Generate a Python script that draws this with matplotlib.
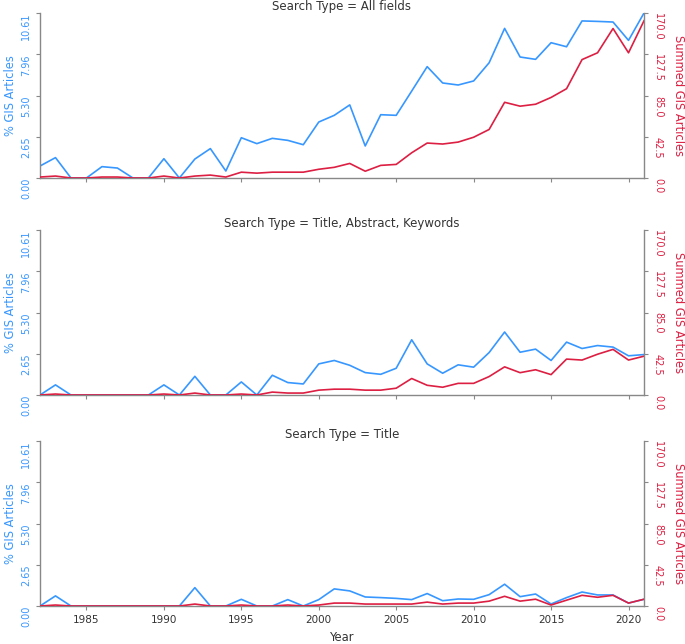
import numpy as np
import matplotlib
matplotlib.use('Agg')
import matplotlib.pyplot as plt

years = list(range(1982, 2022))

search_types = ['All fields', 'Title, Abstract, Keywords', 'Title']

# % GIS articles per search type
pct_all = [0.77, 1.31, 0, 0, 0.73, 0.64, 0, 0, 1.24, 0, 1.22, 1.89, 0.45, 2.59, 2.21,
           2.55, 2.42, 2.14, 3.60, 4.03, 4.70, 2.06, 4.07, 4.03, 5.59, 7.16, 6.11, 5.98,
           6.24, 7.41, 9.62, 7.78, 7.63, 8.70, 8.44, 10.10, 10.07, 10.03, 8.85, 10.61]
pct_tak = [0, 0.65, 0, 0, 0, 0, 0, 0, 0.65, 0, 1.20, 0, 0, 0.84, 0,
           1.27, 0.80, 0.71, 2.00, 2.22, 1.91, 1.44, 1.33, 1.72, 3.55, 2.00, 1.40, 1.94,
           1.79, 2.73, 4.05, 2.75, 2.95, 2.22, 3.40, 2.99, 3.18, 3.08, 2.52, 2.60]
pct_title = [0, 0.65, 0, 0, 0, 0, 0, 0, 0, 0, 1.18, 0, 0, 0.43, 0,
             0, 0.41, 0, 0.41, 1.10, 0.97, 0.58, 0.54, 0.49, 0.41, 0.80, 0.34, 0.45,
             0.43, 0.73, 1.40, 0.60, 0.77, 0.13, 0.54, 0.90, 0.71, 0.71, 0.19, 0.43]

# summed GIS articles per search type
sum_all = [1, 2, 0, 0, 1, 1, 0, 0, 2, 0, 2, 3, 1, 6, 5,
           6, 6, 6, 9, 11, 15, 7, 13, 14, 26, 36, 35, 37,
           42, 50, 78, 74, 76, 83, 92, 122, 129, 154, 129, 162]
sum_tak = [0, 1, 0, 0, 0, 0, 0, 0, 1, 0, 2, 0, 0, 1, 0,
           3, 2, 2, 5, 6, 6, 5, 5, 7, 17, 10, 8, 12,
           12, 19, 29, 23, 26, 21, 37, 36, 42, 47, 36, 40]
sum_title = [0, 1, 0, 0, 0, 0, 0, 0, 0, 0, 2, 0, 0, 1, 0,
             0, 1, 0, 1, 3, 3, 2, 2, 2, 2, 4, 2, 3,
             3, 5, 10, 5, 7, 1, 6, 11, 9, 11, 3, 7]

pct_series = [pct_all, pct_tak, pct_title]
sum_series = [sum_all, sum_tak, sum_title]

blue = '#3797ff'
red = '#dc1f42'
spine_col = '#888888'
text_col = '#333333'

pct_max = 10.61
sum_max = 170.0

fig = plt.figure(figsize=(6.85, 6.44), dpi=100)
left, width = 40 / 685, 604 / 685
tops = [13, 230, 441]
h = 165 / 644

for i, st in enumerate(search_types):
    bottom = 1 - (tops[i] + 165) / 644
    ax = fig.add_axes([left, bottom, width, h])
    ax2 = ax.twinx()

    ax.plot(years, pct_series[i], color=blue, lw=1.2)
    ax2.plot(years, sum_series[i], color=red, lw=1.2)

    ax.set_xlim(1982, 2021)
    ax.set_ylim(0, pct_max)
    ax2.set_ylim(0, sum_max)
    ax.set_yticks(np.linspace(0, pct_max, 5))
    ax.set_yticklabels(['%.2f' % v for v in np.linspace(0, pct_max, 5)])
    ax2.set_yticks(np.linspace(0, sum_max, 5))
    ax2.set_yticklabels(['%.1f' % v for v in np.linspace(0, sum_max, 5)])
    ax.set_xticks([1985, 1990, 1995, 2000, 2005, 2010, 2015, 2020])

    for a in (ax, ax2):
        a.spines['top'].set_visible(False)
        for s in ('left', 'right', 'bottom'):
            a.spines[s].set_color(spine_col)
            a.spines[s].set_linewidth(1.0)
    ax.spines['right'].set_visible(False)
    ax2.spines['left'].set_visible(False)
    ax2.spines['bottom'].set_visible(False)

    ax.tick_params(axis='y', colors=blue, labelsize=7, length=3, width=0.8,
                   labelrotation=90, color=spine_col)
    for lab in ax.get_yticklabels():
        lab.set_va('top')
    ax2.tick_params(axis='y', colors=red, labelsize=7, length=3, width=0.8,
                    labelrotation=-90, color=spine_col)
    for lab in ax2.get_yticklabels():
        lab.set_va('top')
    ax.tick_params(axis='x', labelsize=7.5, length=3, width=0.8, color=spine_col,
                   labelcolor=text_col, labelbottom=(i == 2))

    ax.set_ylabel('% GIS Articles', color=blue, fontsize=8.3, labelpad=3)
    ax2.set_ylabel('Summed GIS Articles', color=red, fontsize=8.3, rotation=270,
                   labelpad=16)
    ax.set_title('Search Type = ' + st, fontsize=8.5, color=text_col, pad=1)
    if i == 2:
        ax.set_xlabel('Year', fontsize=8.3, color=text_col, labelpad=4)

fig.savefig('out.png', dpi=100)
